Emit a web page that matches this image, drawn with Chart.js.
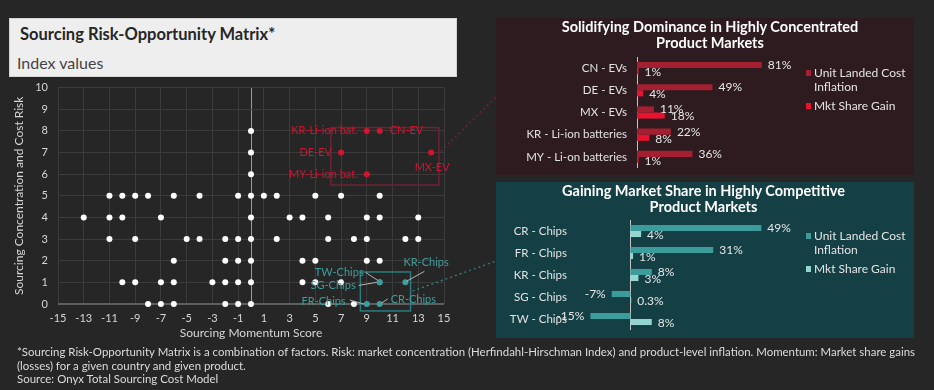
<!DOCTYPE html>
<html>
<head>
<meta charset="utf-8">
<script src="https://cdn.jsdelivr.net/npm/chart.js@4.4.1/dist/chart.umd.min.js"></script>
<style>
  body { margin:0; background:#262626; width:934px; height:390px; position:relative; overflow:hidden; font-family:Lato, sans-serif; }
  .abs { position:absolute; }
  #titleBox { left:9px; top:18px; width:448px; height:59px; background:#eeeeee; box-sizing:border-box; border:1px solid #d4d4d4; }
  #titleBox .t { position:absolute; left:10px; top:5px; font-weight:bold; font-size:16.5px; line-height:20px; color:#262626; }
  #titleBox .s { position:absolute; left:7px; top:34px; font-size:16px; line-height:20px; color:#444; }
  .panel { left:496px; width:418px; }
  #panelTop { top:18px; height:157px; background:#2e1b1f; }
  #panelBot { top:182px; height:156px; background:#133f45; }
  .ptitle { position:absolute; top:1px; text-align:center; font-weight:bold; font-size:14.5px; line-height:16.4px; color:#fff; }
  .legend { position:absolute; left:310px; font-size:12px; line-height:13.5px; color:#e4e4e4; }
  .legend .item { position:relative; padding-left:8px; margin-bottom:6px; }
  .legend .sw { position:absolute; left:0; top:4px; width:5px; height:6px; }
  #foot { left:17px; top:345px; font-size:12px; line-height:13.5px; color:#dcdcdc; transform-origin:0 0; white-space:nowrap; }
</style>
</head>
<body>
<div id="titleBox" class="abs">
  <div class="t">Sourcing Risk-Opportunity Matrix*</div>
  <div class="s">Index values</div>
</div>
<canvas id="matrix" class="abs" style="left:0;top:71px" width="496" height="274"></canvas>

<div id="panelTop" class="abs panel">
  <canvas id="topChart" class="abs" style="left:0;top:0" width="418" height="168"></canvas>
  <div class="ptitle" style="left:0;width:428px">Solidifying Dominance in Highly Concentrated<br>Product Markets</div>
  <div class="legend" id="topLegend" style="top:48px"></div>
</div>
<div id="panelBot" class="abs panel">
  <canvas id="botChart" class="abs" style="left:0;top:0" width="418" height="166"></canvas>
  <div class="ptitle" style="left:0;width:415px">Gaining Market Share in Highly Competitive<br>Product Markets</div>
  <div class="legend" id="botLegend" style="top:47px"></div>
</div>

<div id="foot" class="abs">
  <div><span id="fl1">*Sourcing Risk-Opportunity Matrix is a combination of factors. Risk: market concentration (Herfindahl-Hirschman Index) and product-level inflation. Momentum: Market share gains</span></div>
  <div>(losses) for a given country and given product.</div>
  <div>Source: Onyx Total Sourcing Cost Model</div>
</div>

<script>
// matrix data (x = momentum score, y = concentration/cost risk)
var otherPoints = [
  [0,8], [0,7], [0,6],
  [-11,5], [-10,5], [-9,5], [-8,5], [-6,5], [-4,5], [-1,5], [0,5], [1,5], [2,5], [5,5], [7,5], [10,5],
  [-13,4], [-11,4], [-10,4], [-7,4], [0,4], [3,4], [4,4], [6,4], [9,4], [10,4], [13,4],
  [-11,3], [-9,3], [-5,3], [-4,3], [-2,3], [-1,3], [0,3], [2,3], [6,3], [8,3], [9,3], [12,3], [13,3],
  [-6,2], [-2,2], [-1,2], [0,2], [4,2], [5,2], [9,2], [10,2],
  [-10,1], [-9,1], [-7,1], [-6,1], [-3,1], [-2,1], [-1,1], [0,1], [4,1], [5,1], [7,1],
  [-8,0], [-7,0], [-6,0], [-2,0], [-1,0], [0,0], [6,0], [8,0]
];
var concNames = ['KR-Li-ion bat.', 'CN-EV', 'DE-EV', 'MY-Li-ion bat.', 'MX-EV'];
var concX = [9, 10, 7, 9, 14];
var concY = [8, 8, 7, 6, 7];
var compNames = ['TW-Chips', 'SG-Chips', 'KR-Chips', 'FR-Chips', 'CR-Chips'];
var compX = [10, 10, 12, 9, 10];
var compY = [1, 1, 1, 0, 0];
var xTicks = [-15, -13, -11, -9, -7, -5, -3, -1, 0, 1, 3, 5, 7, 9, 11, 13, 15];

// bar panels
var topCats = ['CN - EVs', 'DE - EVs', 'MX - EVs', 'KR - Li-ion batteries', 'MY - Li-on batteries'];
var topInflation = [81, 49, 11, 22, 36];
var topShare = [1, 4, 18, 8, 1];
var botCats = ['CR - Chips', 'FR - Chips', 'KR - Chips', 'SG - Chips', 'TW - Chips'];
var botInflation = [49, 31, 8, -7, -15];
var botShare = [4, 1, 3, 0.3, 8];

var RED = '#d3132f', TEAL = '#3c9e9c';

// label placement around points (pixels)
var labelPos = {
  'KR-Li-ion bat.': {dx:-9, dy:0, align:'right'},
  'CN-EV': {dx:10, dy:0, align:'left'},
  'DE-EV': {dx:-9, dy:0, align:'right'},
  'MY-Li-ion bat.': {dx:-9, dy:0, align:'right'},
  'MX-EV': {dx:1, dy:15, align:'center'},
  'TW-Chips': {dx:-16, dy:-10, align:'right', lead:[-14,-10,-2,-2]},
  'SG-Chips': {dx:-24, dy:3, align:'right', lead:[-21,3,-3,0]},
  'KR-Chips': {dx:-2, dy:-20, align:'left', lead:[1,-1,19,-11]},
  'FR-Chips': {dx:-21, dy:-3, align:'right', lead:[-17,-4,-3,0]},
  'CR-Chips': {dx:11, dy:-5, align:'left', lead:[2,-1,8,-5]}
};
var boxes = [
  {x1:6.2, x2:14.6, y1:5.5, y2:8.15, color:'#6d2432', link:'#74283a', linkY:7.05, toY:26},
  {x1:8.5, x2:12.4, y1:-0.32, y2:1.48, color:'#2b7c7d', link:'#2e8a8a', linkY:0.6, toY:190}
];

var decor = {
  id: 'decor',
  beforeDatasetsDraw: function(chart) {
    var ctx = chart.ctx, x = chart.scales.x, y = chart.scales.y;
    ctx.save();
    boxes.forEach(function(b) {
      var l = x.getPixelForValue(b.x1), r = x.getPixelForValue(b.x2);
      var t = y.getPixelForValue(b.y2), btm = y.getPixelForValue(b.y1);
      ctx.strokeStyle = b.color;
      ctx.lineWidth = 1.5;
      ctx.strokeRect(l, t, r - l, btm - t);
      ctx.strokeStyle = b.link;
      ctx.lineWidth = 1.2;
      ctx.setLineDash([2, 3]);
      ctx.beginPath();
      ctx.moveTo(r + 2, y.getPixelForValue(b.linkY));
      ctx.lineTo(chart.width, b.toY);
      ctx.stroke();
      ctx.setLineDash([]);
    });
    ctx.restore();
  },
  afterDatasetsDraw: function(chart) {
    var ctx = chart.ctx, x = chart.scales.x, y = chart.scales.y;
    ctx.save();
    ctx.font = '11px Lato';
    ctx.textBaseline = 'middle';
    function put(names, xs, ys, color) {
      names.forEach(function(n, i) {
        var px = x.getPixelForValue(xs[i]), py = y.getPixelForValue(ys[i]);
        var p = labelPos[n];
        if (p.lead) {
          ctx.strokeStyle = '#b5b5b5';
          ctx.lineWidth = 1;
          ctx.beginPath();
          ctx.moveTo(px + p.lead[0], py + p.lead[1]);
          ctx.lineTo(px + p.lead[2], py + p.lead[3]);
          ctx.stroke();
        }
        ctx.fillStyle = color;
        ctx.textAlign = p.align;
        ctx.fillText(n, px + p.dx, py + p.dy);
      });
    }
    put(concNames, concX, concY, RED);
    put(compNames, compX, compY, TEAL);
    ctx.restore();
  }
};

function pts(xs, ys) {
  return xs.map(function(v, i) { return {x: v, y: ys[i]}; });
}

new Chart(document.getElementById('matrix'), {
  type: 'scatter',
  data: {
    datasets: [
      {label: 'Concentrated', data: pts(concX, concY), backgroundColor: RED, pointRadius: 3, borderWidth: 0, clip: false},
      {label: 'Competitive', data: pts(compX, compY), backgroundColor: TEAL, pointRadius: 3, borderWidth: 0, clip: false},
      {label: 'Other', data: otherPoints.map(function(p) { return {x: p[0], y: p[1]}; }), backgroundColor: '#ffffff', pointRadius: 3, borderWidth: 0, clip: false}
    ]
  },
  options: {
    responsive: false,
    animation: false,
    layout: {padding: {left: 0, right: 52, top: 0, bottom: 0}},
    plugins: {legend: {display: false}, tooltip: {enabled: false}},
    scales: {
      x: {
        type: 'linear', min: -15, max: 15,
        afterBuildTicks: function(s) { s.ticks = xTicks.map(function(v) { return {value: v}; }); },
        afterFit: function(s) { s.height = 41; },
        grid: {drawTicks: false, color: function(c) { return c.tick && c.tick.value === 0 ? '#9c9c9c' : '#3b3b3b'; }},
        border: {display: false},
        ticks: {color: '#d6d6d6', font: {family: 'Lato', size: 11}, padding: 8, autoSkip: false, maxRotation: 0,
          callback: function(v) { return v === 0 ? '' : v; }},
        title: {display: true, text: 'Sourcing Momentum Score', color: '#d6d6d6', font: {family: 'Lato', size: 12}, padding: {top: 0, bottom: 5}}
      },
      y: {
        min: 0, max: 10,
        afterFit: function(s) { s.width = 58; },
        grid: {drawTicks: false,
          color: function(c) { return c.tick && c.tick.value === 0 ? '#5f5f5f' : '#3b3b3b'; },
          lineWidth: function(c) { return c.tick && c.tick.value === 0 ? 2 : 1; }},
        border: {display: false},
        ticks: {stepSize: 1, color: '#d6d6d6', font: {family: 'Lato', size: 11}, padding: 10},
        title: {display: true, text: 'Sourcing Concentration and Cost Risk', color: '#d6d6d6', font: {family: 'Lato', size: 12}, padding: {top: 12, bottom: 0}}
      }
    }
  },
  plugins: [decor]
});

// bar panels
var zeroLine = {
  id: 'zeroLine',
  beforeDatasetsDraw: function(chart) {
    var ctx = chart.ctx, a = chart.chartArea, x0 = Math.round(chart.scales.x.getPixelForValue(0)) + 0.5;
    ctx.save();
    ctx.strokeStyle = '#c4c4c4';
    ctx.lineWidth = 1;
    ctx.beginPath();
    ctx.moveTo(x0, a.top);
    ctx.lineTo(x0, a.bottom);
    ctx.stroke();
    ctx.restore();
  }
};
var valueLabels = {
  id: 'valueLabels',
  afterDatasetsDraw: function(chart) {
    var ctx = chart.ctx;
    ctx.save();
    ctx.font = '12px Lato';
    ctx.fillStyle = '#e6e6e6';
    ctx.textBaseline = 'middle';
    chart.data.datasets.forEach(function(ds, di) {
      chart.getDatasetMeta(di).data.forEach(function(bar, i) {
        var v = ds.data[i];
        ctx.textAlign = v < 0 ? 'right' : 'left';
        ctx.fillText(v + '%', bar.x + (v < 0 ? -6 : 6), bar.y + (di === 1 ? 1 : 0));
      });
    });
    ctx.restore();
  }
};

function barChart(id, legendId, cats, inflation, share, colors, xMin, xMax, area) {
  var cv = document.getElementById(id);
  var chart = new Chart(cv, {
    type: 'bar',
    data: {
      labels: cats,
      datasets: [
        {label: 'Unit Landed Cost Inflation', data: inflation, backgroundColor: colors[0]},
        {label: 'Mkt Share Gain', data: share, backgroundColor: colors[1]}
      ]
    },
    options: {
      indexAxis: 'y',
      responsive: false,
      animation: false,
      categoryPercentage: 0.55,
      barPercentage: 1,
      layout: {padding: {left: 0, right: cv.width - area.right, top: area.top, bottom: cv.height - area.bottom}},
      plugins: {legend: {display: false}, tooltip: {enabled: false}},
      scales: {
        x: {display: false, min: xMin, max: xMax},
        y: {
          afterFit: function(s) { s.width = area.left; },
          grid: {display: false, drawTicks: false},
          border: {display: false},
          ticks: {color: '#e2e2e2', font: {family: 'Lato', size: 11.5}, padding: 10}
        }
      }
    },
    plugins: [zeroLine, valueLabels]
  });
  var lg = document.getElementById(legendId);
  chart.data.datasets.forEach(function(ds) {
    var words = ds.label === 'Unit Landed Cost Inflation' ? 'Unit Landed Cost<br>Inflation' : ds.label;
    lg.innerHTML += '<div class="item"><span class="sw" style="background:' + ds.backgroundColor + '"></span>' + words + '</div>';
  });
}

barChart('topChart', 'topLegend', topCats, topInflation, topShare, ['#a41f2f', '#e8132e'], 0, 100,
  {left: 141, right: 295, top: 39, bottom: 150});
barChart('botChart', 'botLegend', botCats, botInflation, botShare, ['#3c9c9b', '#93d6cf'], -20, 50,
  {left: 81, right: 268, top: 38, bottom: 148});

// footnote is set in a condensed face in the original
var w = document.getElementById('fl1').getBoundingClientRect().width;
document.getElementById('foot').style.transform = 'scaleX(' + (898 / w) + ')';
</script>
</body>
</html>
